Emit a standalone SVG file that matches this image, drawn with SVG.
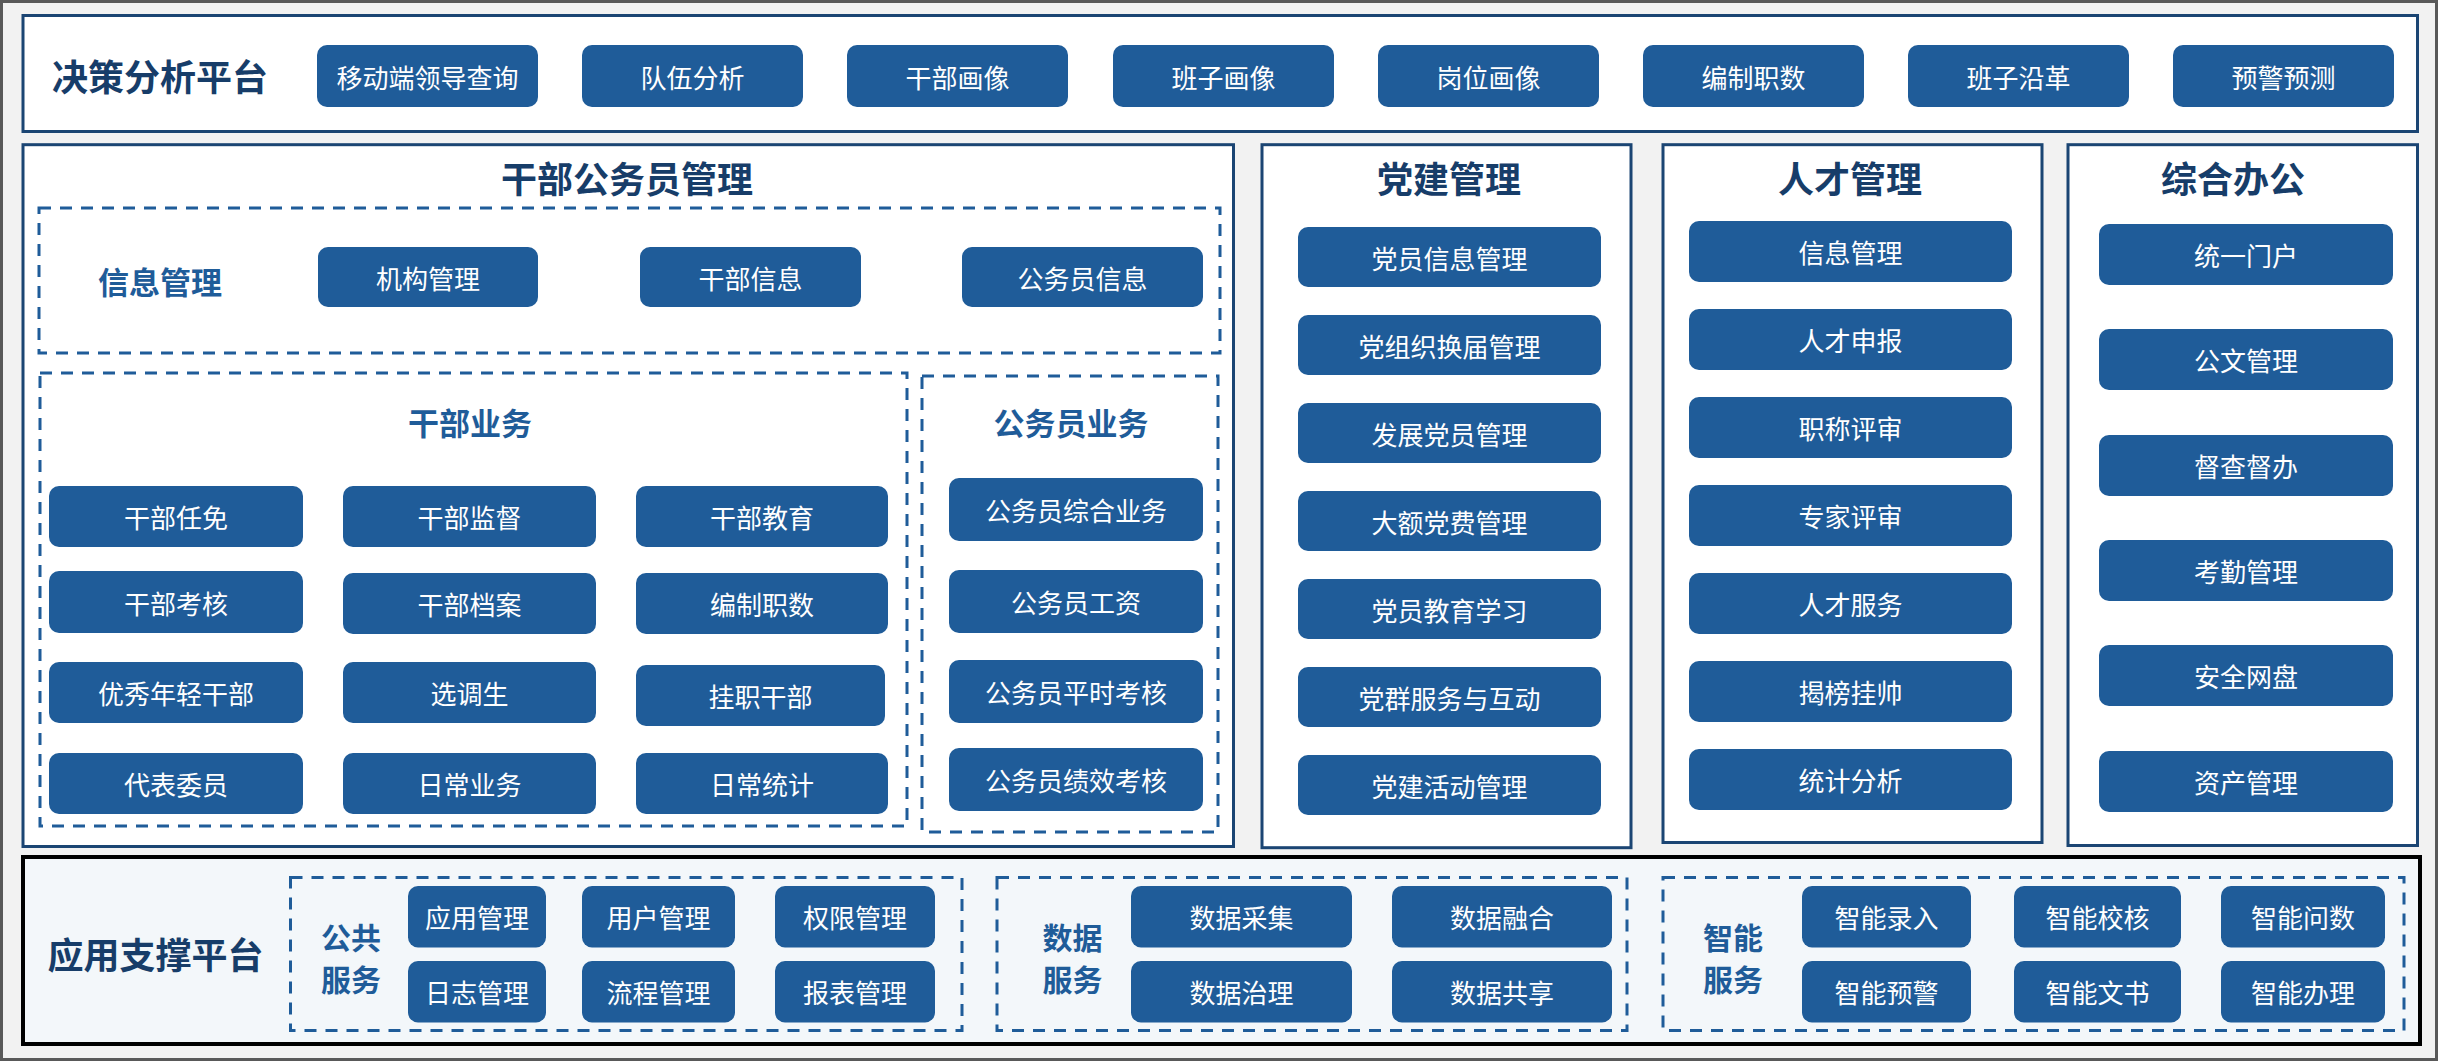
<svg xmlns="http://www.w3.org/2000/svg" width="2438" height="1061" viewBox="0 0 2438 1061">
<style>
.panel{fill:#ffffff;stroke:#1b4573;stroke-width:3}
.support{fill:#f3f7fa;stroke:#000000;stroke-width:4}
.dash{fill:none;stroke:#1f5c99;stroke-width:3;stroke-dasharray:12 9}
.btn{fill:#1f5c99}
.bt{fill:#ffffff;font-family:"Noto Sans CJK SC","Noto Sans",sans-serif;font-size:26px;text-anchor:middle;dominant-baseline:central}
.title{fill:#173d69;font-family:"Noto Sans CJK SC","Noto Sans",sans-serif;font-size:36px;font-weight:bold;text-anchor:middle;dominant-baseline:central}
.sub{fill:#1f5c99;font-family:"Noto Sans CJK SC","Noto Sans",sans-serif;font-size:31px;font-weight:bold;text-anchor:middle;dominant-baseline:central}
.sub2{fill:#1f5c99;font-family:"Noto Sans CJK SC","Noto Sans",sans-serif;font-size:30px;font-weight:bold;text-anchor:middle;dominant-baseline:central}
</style>
<rect x="0" y="0" width="2438" height="1061" fill="#f2f2f2"/>
<rect x="1.5" y="1.5" width="2435" height="1058" fill="none" stroke="#595959" stroke-width="3"/>

<!-- 决策分析平台 -->
<g id="decision">
<rect class="panel" x="23" y="15.5" width="2394.5" height="116"/>
<text class="title" x="160" y="75">决策分析平台</text>
<g id="d1"><rect class="btn" x="317" y="45" width="221" height="62" rx="10"/><text class="bt" x="427.5" y="76">移动端领导查询</text></g>
<g id="d2"><rect class="btn" x="582" y="45" width="221" height="62" rx="10"/><text class="bt" x="692.5" y="76">队伍分析</text></g>
<g id="d3"><rect class="btn" x="847" y="45" width="221" height="62" rx="10"/><text class="bt" x="957.5" y="76">干部画像</text></g>
<g id="d4"><rect class="btn" x="1113" y="45" width="221" height="62" rx="10"/><text class="bt" x="1223.5" y="76">班子画像</text></g>
<g id="d5"><rect class="btn" x="1378" y="45" width="221" height="62" rx="10"/><text class="bt" x="1488.5" y="76">岗位画像</text></g>
<g id="d6"><rect class="btn" x="1643" y="45" width="221" height="62" rx="10"/><text class="bt" x="1753.5" y="76">编制职数</text></g>
<g id="d7"><rect class="btn" x="1908" y="45" width="221" height="62" rx="10"/><text class="bt" x="2018.5" y="76">班子沿革</text></g>
<g id="d8"><rect class="btn" x="2173" y="45" width="221" height="62" rx="10"/><text class="bt" x="2283.5" y="76">预警预测</text></g>
</g>

<!-- 干部公务员管理 -->
<g id="cadre">
<rect class="panel" x="23" y="144.7" width="1210.5" height="701.8"/>
<text class="title" x="627" y="177">干部公务员管理</text>
<g id="info">
<rect class="dash" x="39" y="208" width="1181" height="145"/>
<text class="sub" x="160" y="280">信息管理</text>
<g id="i1"><rect class="btn" x="318" y="247" width="220" height="60" rx="10"/><text class="bt" x="428" y="277">机构管理</text></g>
<g id="i2"><rect class="btn" x="640" y="247" width="221" height="60" rx="10"/><text class="bt" x="750.5" y="277">干部信息</text></g>
<g id="i3"><rect class="btn" x="962" y="247" width="241" height="60" rx="10"/><text class="bt" x="1082.5" y="277">公务员信息</text></g>
</g>
<g id="cadrebiz">
<rect class="dash" x="40" y="373" width="867" height="453"/>
<text class="sub" x="470" y="421">干部业务</text>
<g id="c1"><rect class="btn" x="49" y="486" width="254" height="61" rx="10"/><text class="bt" x="176" y="516.5">干部任免</text></g>
<g id="c2"><rect class="btn" x="343" y="486" width="253" height="61" rx="10"/><text class="bt" x="469.5" y="516.5">干部监督</text></g>
<g id="c3"><rect class="btn" x="636" y="486" width="252" height="61" rx="10"/><text class="bt" x="762" y="516.5">干部教育</text></g>
<g id="c4"><rect class="btn" x="49" y="571" width="254" height="62" rx="10"/><text class="bt" x="176" y="602">干部考核</text></g>
<g id="c5"><rect class="btn" x="343" y="573" width="253" height="61" rx="10"/><text class="bt" x="469.5" y="603.5">干部档案</text></g>
<g id="c6"><rect class="btn" x="636" y="573" width="252" height="61" rx="10"/><text class="bt" x="762" y="603.5">编制职数</text></g>
<g id="c7"><rect class="btn" x="49" y="662" width="254" height="61" rx="10"/><text class="bt" x="176" y="692.5">优秀年轻干部</text></g>
<g id="c8"><rect class="btn" x="343" y="662" width="253" height="61" rx="10"/><text class="bt" x="469.5" y="692.5">选调生</text></g>
<g id="c9"><rect class="btn" x="636" y="665" width="249" height="61" rx="10"/><text class="bt" x="760.5" y="695.5">挂职干部</text></g>
<g id="c10"><rect class="btn" x="49" y="753" width="254" height="61" rx="10"/><text class="bt" x="176" y="783.5">代表委员</text></g>
<g id="c11"><rect class="btn" x="343" y="753" width="253" height="61" rx="10"/><text class="bt" x="469.5" y="783.5">日常业务</text></g>
<g id="c12"><rect class="btn" x="636" y="753" width="252" height="61" rx="10"/><text class="bt" x="762" y="783.5">日常统计</text></g>
</g>
<g id="civilbiz">
<rect class="dash" x="922" y="376" width="296" height="456"/>
<text class="sub" x="1071" y="421">公务员业务</text>
<g id="s1"><rect class="btn" x="949" y="478" width="254" height="63" rx="10"/><text class="bt" x="1076" y="509.5">公务员综合业务</text></g>
<g id="s2"><rect class="btn" x="949" y="570" width="254" height="63" rx="10"/><text class="bt" x="1076" y="601.5">公务员工资</text></g>
<g id="s3"><rect class="btn" x="949" y="660" width="254" height="63" rx="10"/><text class="bt" x="1076" y="691.5">公务员平时考核</text></g>
<g id="s4"><rect class="btn" x="949" y="748" width="254" height="63" rx="10"/><text class="bt" x="1076" y="779.5">公务员绩效考核</text></g>
</g>
</g>

<!-- 党建管理 -->
<g id="party">
<rect class="panel" x="1262" y="144.7" width="369" height="703"/>
<text class="title" x="1449" y="176.5">党建管理</text>
<g id="p1"><rect class="btn" x="1298" y="227" width="303" height="60" rx="10"/><text class="bt" x="1449.5" y="257">党员信息管理</text></g>
<g id="p2"><rect class="btn" x="1298" y="315" width="303" height="60" rx="10"/><text class="bt" x="1449.5" y="345">党组织换届管理</text></g>
<g id="p3"><rect class="btn" x="1298" y="403" width="303" height="60" rx="10"/><text class="bt" x="1449.5" y="433">发展党员管理</text></g>
<g id="p4"><rect class="btn" x="1298" y="491" width="303" height="60" rx="10"/><text class="bt" x="1449.5" y="521">大额党费管理</text></g>
<g id="p5"><rect class="btn" x="1298" y="579" width="303" height="60" rx="10"/><text class="bt" x="1449.5" y="609">党员教育学习</text></g>
<g id="p6"><rect class="btn" x="1298" y="667" width="303" height="60" rx="10"/><text class="bt" x="1449.5" y="697">党群服务与互动</text></g>
<g id="p7"><rect class="btn" x="1298" y="755" width="303" height="60" rx="10"/><text class="bt" x="1449.5" y="785">党建活动管理</text></g>
</g>

<!-- 人才管理 -->
<g id="talent">
<rect class="panel" x="1663" y="144.7" width="379" height="697.8"/>
<text class="title" x="1850" y="176.5">人才管理</text>
<g id="t1"><rect class="btn" x="1689" y="221" width="323" height="61" rx="10"/><text class="bt" x="1850.5" y="251.5">信息管理</text></g>
<g id="t2"><rect class="btn" x="1689" y="309" width="323" height="61" rx="10"/><text class="bt" x="1850.5" y="339.5">人才申报</text></g>
<g id="t3"><rect class="btn" x="1689" y="397" width="323" height="61" rx="10"/><text class="bt" x="1850.5" y="427.5">职称评审</text></g>
<g id="t4"><rect class="btn" x="1689" y="485" width="323" height="61" rx="10"/><text class="bt" x="1850.5" y="515.5">专家评审</text></g>
<g id="t5"><rect class="btn" x="1689" y="573" width="323" height="61" rx="10"/><text class="bt" x="1850.5" y="603.5">人才服务</text></g>
<g id="t6"><rect class="btn" x="1689" y="661" width="323" height="61" rx="10"/><text class="bt" x="1850.5" y="691.5">揭榜挂帅</text></g>
<g id="t7"><rect class="btn" x="1689" y="749" width="323" height="61" rx="10"/><text class="bt" x="1850.5" y="779.5">统计分析</text></g>
</g>

<!-- 综合办公 -->
<g id="office">
<rect class="panel" x="2068" y="144.7" width="349.5" height="700.8"/>
<text class="title" x="2233" y="176.5">综合办公</text>
<g id="o1"><rect class="btn" x="2099" y="224" width="294" height="61" rx="10"/><text class="bt" x="2246" y="254.5">统一门户</text></g>
<g id="o2"><rect class="btn" x="2099" y="329" width="294" height="61" rx="10"/><text class="bt" x="2246" y="359.5">公文管理</text></g>
<g id="o3"><rect class="btn" x="2099" y="435" width="294" height="61" rx="10"/><text class="bt" x="2246" y="465.5">督查督办</text></g>
<g id="o4"><rect class="btn" x="2099" y="540" width="294" height="61" rx="10"/><text class="bt" x="2246" y="570.5">考勤管理</text></g>
<g id="o5"><rect class="btn" x="2099" y="645" width="294" height="61" rx="10"/><text class="bt" x="2246" y="675.5">安全网盘</text></g>
<g id="o6"><rect class="btn" x="2099" y="751" width="294" height="61" rx="10"/><text class="bt" x="2246" y="781.5">资产管理</text></g>
</g>

<!-- 应用支撑平台 -->
<g id="support">
<rect class="support" x="23" y="857" width="2397" height="187"/>
<text class="title" x="155.5" y="953">应用支撑平台</text>
<g id="public">
<rect class="dash" x="290.5" y="877.5" width="671.5" height="153"/>
<text class="sub2" x="351" y="936">公共</text>
<text class="sub2" x="351" y="978">服务</text>
<g id="u1"><rect class="btn" x="408" y="886" width="138" height="61.5" rx="10"/><text class="bt" x="477" y="916.5">应用管理</text></g>
<g id="u2"><rect class="btn" x="582" y="886" width="153" height="61.5" rx="10"/><text class="bt" x="658.5" y="916.5">用户管理</text></g>
<g id="u3"><rect class="btn" x="775" y="886" width="160" height="61.5" rx="10"/><text class="bt" x="855" y="916.5">权限管理</text></g>
<g id="u4"><rect class="btn" x="408" y="961" width="138" height="61.5" rx="10"/><text class="bt" x="477" y="991.5">日志管理</text></g>
<g id="u5"><rect class="btn" x="582" y="961" width="153" height="61.5" rx="10"/><text class="bt" x="658.5" y="991.5">流程管理</text></g>
<g id="u6"><rect class="btn" x="775" y="961" width="160" height="61.5" rx="10"/><text class="bt" x="855" y="991.5">报表管理</text></g>
</g>
<g id="data">
<rect class="dash" x="997" y="877.5" width="630" height="153"/>
<text class="sub2" x="1072.5" y="936">数据</text>
<text class="sub2" x="1072.5" y="978">服务</text>
<g id="a1"><rect class="btn" x="1131" y="886" width="221" height="61.5" rx="10"/><text class="bt" x="1241.5" y="916.5">数据采集</text></g>
<g id="a2"><rect class="btn" x="1392" y="886" width="220" height="61.5" rx="10"/><text class="bt" x="1502" y="916.5">数据融合</text></g>
<g id="a3"><rect class="btn" x="1131" y="961" width="221" height="61.5" rx="10"/><text class="bt" x="1241.5" y="991.5">数据治理</text></g>
<g id="a4"><rect class="btn" x="1392" y="961" width="220" height="61.5" rx="10"/><text class="bt" x="1502" y="991.5">数据共享</text></g>
</g>
<g id="smart">
<rect class="dash" x="1663" y="877.5" width="741" height="153"/>
<text class="sub2" x="1733" y="936">智能</text>
<text class="sub2" x="1733" y="978">服务</text>
<g id="m1"><rect class="btn" x="1802" y="886" width="169" height="61.5" rx="10"/><text class="bt" x="1886.5" y="916.5">智能录入</text></g>
<g id="m2"><rect class="btn" x="2014" y="886" width="167" height="61.5" rx="10"/><text class="bt" x="2097.5" y="916.5">智能校核</text></g>
<g id="m3"><rect class="btn" x="2221" y="886" width="164" height="61.5" rx="10"/><text class="bt" x="2303" y="916.5">智能问数</text></g>
<g id="m4"><rect class="btn" x="1802" y="961" width="169" height="61.5" rx="10"/><text class="bt" x="1886.5" y="991.5">智能预警</text></g>
<g id="m5"><rect class="btn" x="2014" y="961" width="167" height="61.5" rx="10"/><text class="bt" x="2097.5" y="991.5">智能文书</text></g>
<g id="m6"><rect class="btn" x="2221" y="961" width="164" height="61.5" rx="10"/><text class="bt" x="2303" y="991.5">智能办理</text></g>
</g>
</g>
<g id="connectors"/>
</svg>
